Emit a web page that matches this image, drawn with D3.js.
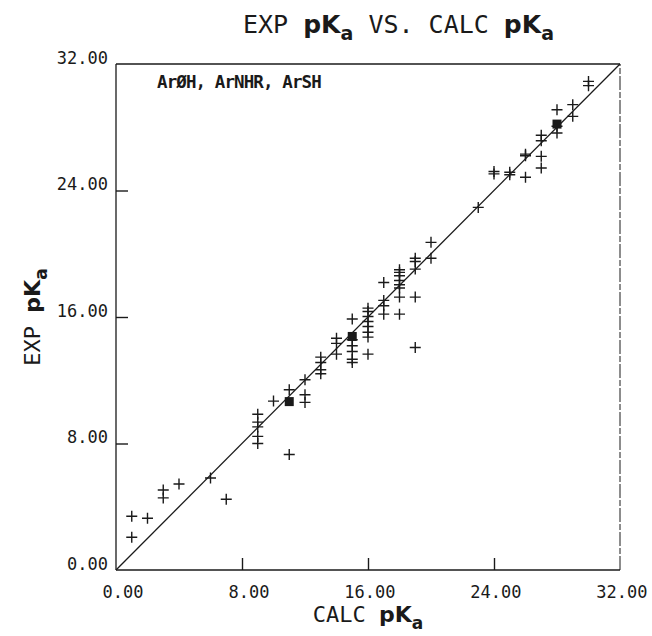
<!DOCTYPE html>
<html>
<head>
<meta charset="utf-8">
<script src="https://cdn.jsdelivr.net/npm/d3@7"></script>
<style>
  html, body { margin: 0; padding: 0; background: #fff; }
  svg { display: block; }
  text { font-family: "DejaVu Sans Mono", monospace; fill: #1a1a1a; }
</style>
</head>
<body>
<script>
// ---- data ----
const calcPKa = [1,1,2,3,3,4,6,7,
  9,9,9,9,9, 10, 11,11, 12,12,12, 13,13,13,13, 14,14,14,
  15,15,15,15,15,15, 16,16,16,16,16,16,16,16, 17,17,17,17,
  18,18,18,18,18,18,18,18, 19,19,19,19,19, 20,20, 23,
  24,24, 25,25, 26,26,26, 27,27,27,27, 28,28,28, 29,29, 30,30];
const expPKa = [3.4,2.07,3.27,5.06,4.56,5.44,5.82,4.47,
  9.85,9.35,9.05,8.45,8.0, 10.68, 11.4,7.3, 12.03,11.08,10.6, 13.46,13.12,12.66,12.41, 14.66,14.33,13.65,
  15.87,14.56,14.18,13.82,13.33,13.12, 16.56,16.35,16.03,15.72,15.4,15.04,14.73,13.65, 18.18,17.05,16.71,16.18,
  18.99,18.82,18.61,18.31,18.04,17.83,17.26,16.18, 19.72,19.51,19.03,17.26,14.07, 20.72,19.72, 22.93,
  25.2,25.05, 25.15,25.0, 26.3,26.2,24.84, 27.49,27.15,26.16,25.42, 29.11,28.06,27.64, 29.43,28.69, 30.9,30.63];
// dense overlapping clusters (drawn as filled blocks)
const clusterCalc = [11, 15, 28];
const clusterExp  = [10.65, 14.77, 28.2];
const tickValues = [0, 8, 16, 24, 32];
const innerTicks = [8, 16, 24];
const legendText = "ArØH, ArNHR, ArSH";

// ---- layout ----
const W = 652, H = 636;
const L = 116, R = 620, T = 64, B = 570;
const x = d3.scaleLinear().domain([0, 32]).range([L, R]);
const y = d3.scaleLinear().domain([0, 32]).range([B, T]);
const fmt = d3.format(".2f");

const svg = d3.select("body").append("svg").attr("width", W).attr("height", H);

// frame
const frame = svg.append("g").attr("stroke", "#1a1a1a").attr("fill", "none");
frame.append("line").attr("x1", x(0)).attr("x2", x(32)).attr("y1", y(32)).attr("y2", y(32)).attr("stroke-width", 1.5);
frame.append("line").attr("x1", x(0)).attr("x2", x(32)).attr("y1", y(0)).attr("y2", y(0)).attr("stroke-width", 1.5);
frame.append("line").attr("x1", x(0)).attr("x2", x(0)).attr("y1", y(0)).attr("y2", y(32)).attr("stroke-width", 1.3);
frame.append("line").attr("x1", x(32)).attr("x2", x(32)).attr("y1", y(0)).attr("y2", y(32)).attr("stroke-width", 1).attr("stroke-dasharray", "14 2 6 2");

// inward ticks through d3 axes
const gxT = svg.append("g").attr("transform", `translate(0,${y(0)})`)
  .call(d3.axisBottom(x).tickValues(innerTicks).tickSize(-12).tickFormat(""));
const gyT = svg.append("g").attr("transform", `translate(${x(0)},0)`)
  .call(d3.axisLeft(y).tickValues(innerTicks).tickSize(-12).tickFormat(""));
[gxT, gyT].forEach(g => {
  g.select(".domain").remove();
  g.selectAll("line").attr("stroke", "#1a1a1a").attr("stroke-width", 1.4);
});

// tick labels
const gxL = svg.append("g").attr("transform", `translate(0,${y(0)})`)
  .call(d3.axisBottom(x).tickValues(tickValues).tickSize(0).tickFormat(fmt));
gxL.select(".domain").remove();
gxL.selectAll("text").attr("font-size", 17).attr("font-family", "DejaVu Sans Mono")
  .attr("text-anchor", "end").attr("dx", 27).attr("y", 28).attr("dy", 0).attr("fill", "#1a1a1a");

const gyL = svg.append("g").attr("transform", `translate(${x(0)},0)`)
  .call(d3.axisLeft(y).tickValues(tickValues).tickSize(0).tickFormat(fmt));
gyL.select(".domain").remove();
gyL.selectAll("text").attr("font-size", 17).attr("font-family", "DejaVu Sans Mono")
  .attr("text-anchor", "end").attr("x", -8).attr("dy", -1).attr("fill", "#1a1a1a");

// diagonal line y = x
svg.append("path")
  .attr("d", d3.line().x(d => x(d)).y(d => y(d))([0, 32]))
  .attr("stroke", "#1a1a1a").attr("stroke-width", 1.3).attr("fill", "none");

// points as plus markers
const pts = d3.range(calcPKa.length).map(i => [calcPKa[i], expPKa[i]]);
svg.append("g").selectAll("path").data(pts).join("path")
  .attr("transform", d => `translate(${x(d[0])},${y(d[1])})`)
  .attr("d", "M-5.5,0H5.5M0,-5.5V5.5")
  .attr("stroke", "#1a1a1a").attr("stroke-width", 1.4).attr("fill", "none");

const cl = d3.range(clusterCalc.length).map(i => [clusterCalc[i], clusterExp[i]]);
svg.append("g").selectAll("rect").data(cl).join("rect")
  .attr("x", d => x(d[0]) - 4.5).attr("y", d => y(d[1]) - 4.5)
  .attr("width", 9).attr("height", 9).attr("fill", "#1a1a1a");

// title
const title = svg.append("text").attr("x", 243).attr("y", 33).attr("font-size", 25);
title.append("tspan").text("EXP ");
title.append("tspan").attr("font-weight", "bold").attr("font-family", "DejaVu Sans").text("pK");
title.append("tspan").attr("font-weight", "bold").attr("font-family", "DejaVu Sans").attr("font-size", 19).attr("dy", 7).text("a");
title.append("tspan").attr("dy", -7).text(" VS. CALC ");
title.append("tspan").attr("font-weight", "bold").attr("font-family", "DejaVu Sans").text("pK");
title.append("tspan").attr("font-weight", "bold").attr("font-family", "DejaVu Sans").attr("font-size", 19).attr("dy", 7).text("a");

// x axis title
const xt = svg.append("text").attr("x", (L + R) / 2).attr("y", 622).attr("text-anchor", "middle").attr("font-size", 22);
xt.append("tspan").text("CALC ");
xt.append("tspan").attr("font-weight", "bold").attr("font-family", "DejaVu Sans").text("pK");
xt.append("tspan").attr("font-weight", "bold").attr("font-family", "DejaVu Sans").attr("font-size", 17).attr("dy", 7).text("a");

// y axis title
const yt = svg.append("text").attr("transform", `translate(40,${(T + B) / 2}) rotate(-90)`)
  .attr("text-anchor", "middle").attr("font-size", 22);
yt.append("tspan").text("EXP ");
yt.append("tspan").attr("font-weight", "bold").attr("font-family", "DejaVu Sans").text("pK");
yt.append("tspan").attr("font-weight", "bold").attr("font-family", "DejaVu Sans").attr("font-size", 17).attr("dy", 7).text("a");

// legend label
svg.append("text").attr("x", 157).attr("y", 88).attr("font-size", 17.5).attr("font-weight", "bold")
  .attr("letter-spacing", -0.9)
  .text(legendText);
</script>
</body>
</html>
